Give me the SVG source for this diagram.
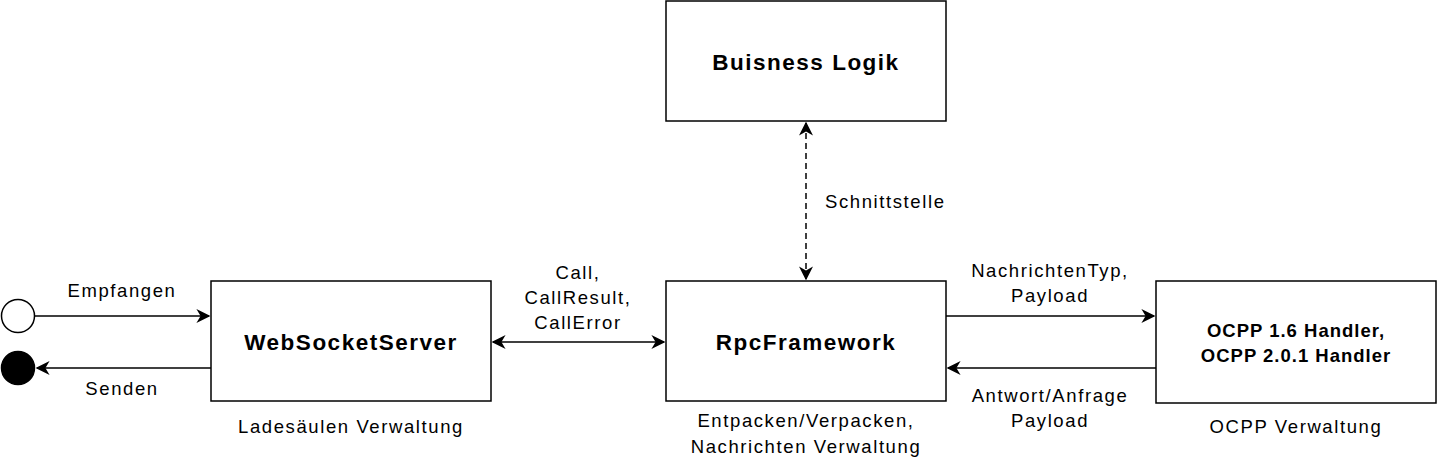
<svg xmlns="http://www.w3.org/2000/svg" width="1437" height="471" viewBox="0 0 1437 471">
<defs>
<style>
.box{fill:#fff;stroke:#000;stroke-width:1.5}
.t{font-family:"Liberation Sans",Arial,sans-serif;font-size:18.5px;letter-spacing:1.6px;fill:#000}
.b{font-family:"Liberation Sans",Arial,sans-serif;font-size:22.5px;font-weight:bold;letter-spacing:1.5px;fill:#000}
.bs{font-family:"Liberation Sans",Arial,sans-serif;font-size:18.5px;font-weight:bold;letter-spacing:1px;fill:#000}
.c{text-anchor:middle}
.ln{fill:none;stroke:#000;stroke-width:1.5}
</style>
<marker id="ah2" viewBox="0 0 10 10" refX="9" refY="5" markerWidth="14" markerHeight="14" markerUnits="userSpaceOnUse" orient="auto-start-reverse"><path d="M0,0 L10,5 L0,10 L3,5 Z" fill="#000"/></marker>
</defs>
<g id="connectors">
<path class="ln" d="M35,316 L209,316" marker-end="url(#ah2)"/>
<path class="ln" d="M211,368 L37,368" marker-end="url(#ah2)"/>
<path class="ln" d="M493,342 L664,342" marker-start="url(#ah2)" marker-end="url(#ah2)"/>
<path class="ln" d="M806,123 L806,279" stroke-dasharray="6,4" marker-start="url(#ah2)" marker-end="url(#ah2)"/>
<path class="ln" d="M946,316 L1154,316" marker-end="url(#ah2)"/>
<path class="ln" d="M1156,368 L948,368" marker-end="url(#ah2)"/>
</g>
<g id="labels">
<text class="t c" x="122" y="297">Empfangen</text>
<text class="t c" x="122" y="395">Senden</text>
<text class="t c" x="578" y="279">Call,</text>
<text class="t c" x="578" y="304">CallResult,</text>
<text class="t c" x="578" y="329">CallError</text>
<text class="t" x="825" y="208">Schnittstelle</text>
<text class="t c" x="1050" y="277">NachrichtenTyp,</text>
<text class="t c" x="1050" y="302">Payload</text>
<text class="t c" x="1050" y="402">Antwort/Anfrage</text>
<text class="t c" x="1050" y="427">Payload</text>
</g>
<g id="start"><circle cx="18" cy="316" r="16.5" fill="#fff" stroke="#000" stroke-width="1.5"/></g>
<g id="end"><circle cx="18" cy="368" r="16.5" fill="#000" stroke="#000" stroke-width="1.5"/></g>
<g id="websocket">
<rect class="box" x="211" y="281" width="280" height="120"/>
<text class="b c" x="351" y="350">WebSocketServer</text>
<text class="t c" x="351" y="433">Ladesäulen Verwaltung</text>
</g>
<g id="rpc">
<rect class="box" x="666" y="281" width="280" height="120"/>
<text class="b c" x="806" y="350">RpcFramework</text>
<text class="t c" x="806" y="427">Entpacken/Verpacken,</text>
<text class="t c" x="806" y="453">Nachrichten Verwaltung</text>
</g>
<g id="logic">
<rect class="box" x="666" y="1" width="280" height="120"/>
<text class="b c" x="806" y="70">Buisness Logik</text>
</g>
<g id="ocpp">
<rect class="box" x="1156" y="281" width="280" height="122"/>
<text class="bs c" x="1296" y="337">OCPP 1.6 Handler,</text>
<text class="bs c" x="1296" y="362">OCPP 2.0.1 Handler</text>
<text class="t c" x="1296" y="433">OCPP Verwaltung</text>
</g>
</svg>
